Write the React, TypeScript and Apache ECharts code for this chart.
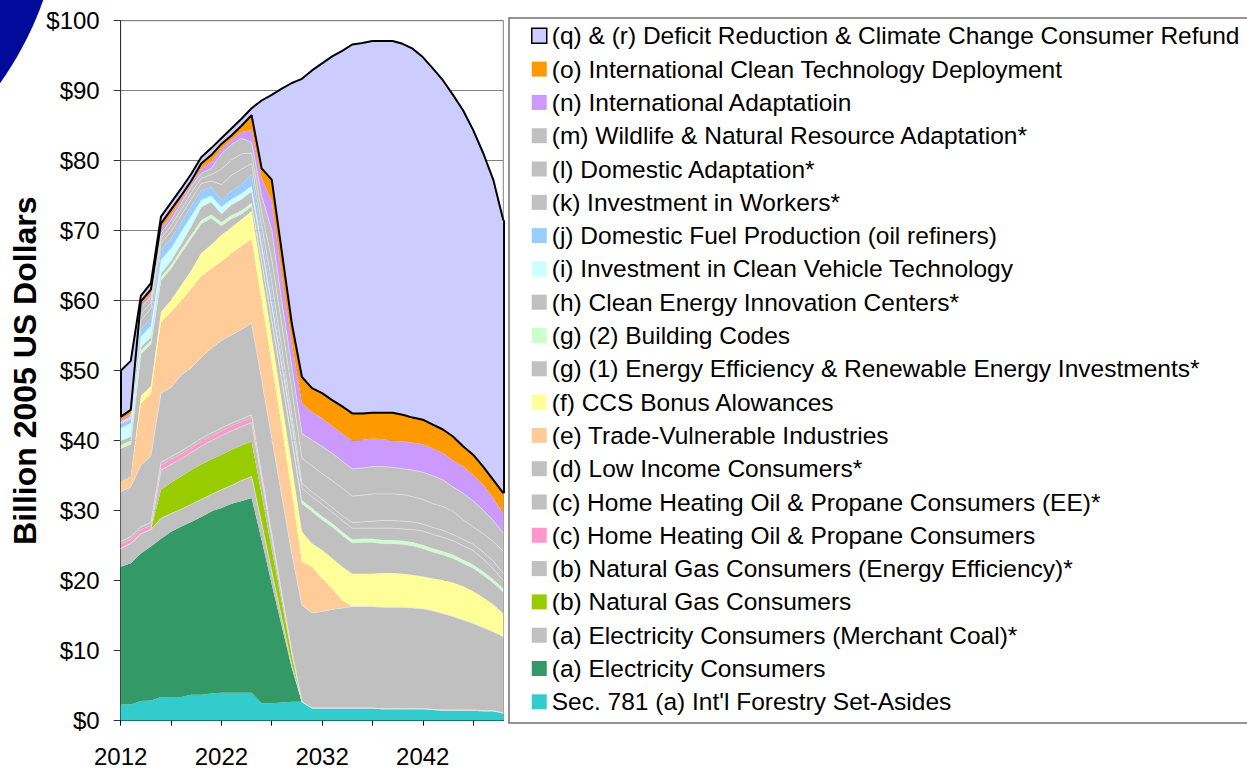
import React, { useEffect, useRef } from 'react';
import * as echarts from 'echarts';

const years = ['2012','2013','2014','2015','2016','2017','2018','2019','2020','2021','2022','2023','2024','2025','2026','2027','2028','2029','2030','2031','2032','2033','2034','2035','2036','2037','2038','2039','2040','2041','2042','2043','2044','2045','2046','2047','2048','2049','2050'];

const yTicks = [0, 10, 20, 30, 40, 50, 60, 70, 80, 90, 100];

// series values, billion 2005 US$, 2012..2050 (bottom of stack first)
const forestry = [2.3,2.3,2.8,2.9,3.4,3.4,3.4,3.7,3.7,3.9,4.0,4.0,4.0,4.0,2.5,2.5,2.6,2.7,2.7,1.8,1.8,1.8,1.8,1.8,1.8,1.8,1.7,1.7,1.7,1.7,1.7,1.6,1.5,1.5,1.5,1.5,1.4,1.4,1.1];
const electricity = [19.7,20.2,21.1,22.0,22.6,23.6,24.3,24.7,25.4,26.0,26.4,27.0,27.4,27.8,23.3,17.0,10.9,4.8,0,0,0,0,0,0,0,0,0,0,0,0,0,0,0,0,0,0,0,0,0];
const merchantCoal = [2.6,2.8,2.8,2.4,2.9,2.6,2.5,2.5,2.5,2.4,2.6,2.6,2.9,3.1,2.4,1.8,1.1,0.4,0,0,0,0,0,0,0,0,0,0,0,0,0,0,0,0,0,0,0,0,0];
const natGas = [0,0,0,0,4.1,4.4,4.7,4.9,5.0,5.0,5.0,5.1,5.0,5.0,4.1,3.2,2.3,1.4,0,0,0,0,0,0,0,0,0,0,0,0,0,0,0,0,0,0,0,0,0];
const natGasEE = [0,0,0,0,2.8,2.6,2.5,2.5,2.6,2.7,2.7,2.7,2.7,2.7,2.2,1.6,1.0,0.4,0,0,0,0,0,0,0,0,0,0,0,0,0,0,0,0,0,0,0,0,0];
const heatingOil = [0.6,0.6,0.6,0.6,0.7,0.7,0.7,0.7,0.7,0.7,0.7,0.7,0.7,0.7,0.5,0.4,0.2,0.1,0,0,0,0,0,0,0,0,0,0,0,0,0,0,0,0,0,0,0,0,0];
const heatingOilEE = [0.4,0.4,0.4,0.4,0.4,0.4,0.4,0.4,0.4,0.4,0.4,0.4,0.4,0.4,0.3,0.2,0.1,0.1,0,0,0,0,0,0,0,0,0,0,0,0,0,0,0,0,0,0,0,0,0];
const lowIncome = [7.1,7.1,8.8,9.5,9.9,9.9,10.9,11.0,11.6,12.1,12.5,12.6,12.8,13.1,13.4,13.7,13.9,13.9,13.8,13.6,13.8,14.1,14.3,14.5,14.5,14.5,14.5,14.5,14.5,14.4,14.3,14.1,13.8,13.4,12.9,12.4,11.9,11.3,10.9];
const tradeVulnerable = [1.4,1.5,8.8,8.9,10.2,10.8,10.6,11.3,11.6,11.4,11.3,11.7,11.9,12.0,11.3,10.6,9.9,8.7,6.2,6.6,4.7,3.0,1.1,0,0,0,0,0,0,0,0,0,0,0,0,0,0,0,0];
const ccsBonus = [0,0,1.1,1.1,1.4,1.7,2.2,2.6,3.3,3.4,3.8,3.7,3.8,4.0,4.0,3.8,3.6,3.9,4.3,3.3,4.1,4.3,4.8,4.7,4.7,4.7,4.9,4.9,4.8,4.7,4.6,4.6,4.8,4.8,4.8,4.6,4.3,3.9,3.3];
const eeRe = [4.8,4.6,6.0,6.0,4.5,4.5,4.6,4.6,4.2,3.8,1.3,1.2,0.8,0.7,1.5,2.3,3.0,3.6,4.0,4.6,4.3,4.5,4.5,4.4,4.5,4.5,4.2,4.2,4.2,4.2,4.0,3.8,3.6,3.5,3.3,3.3,3.2,3.1,3.1];
const buildingCodes = [0.5,0.5,0.5,0.5,0.5,0.5,0.5,0.5,0.5,0.5,0.5,0.5,0.5,0.5,0.4,0.4,0.4,0.4,0.5,0.5,0.5,0.5,0.5,0.5,0.5,0.5,0.5,0.5,0.5,0.5,0.5,0.5,0.5,0.5,0.5,0.5,0.5,0.5,0.5];
const innovation = [0.6,0.6,0.5,0.5,0.5,0.6,0.8,1.2,1.9,1.8,1.2,1.5,1.6,1.6,1.6,1.7,1.7,1.7,1.7,1.6,1.7,1.6,1.6,1.6,1.5,1.5,1.7,1.7,1.7,1.8,2.0,2.0,2.0,2.0,2.0,2.0,1.8,1.5,1.1];
const cleanVehicle = [1.8,1.9,1.5,1.6,1.9,1.8,1.7,1.5,1.0,0.9,1.0,0.8,0.8,0.8,0.6,0.5,0.3,0.2,0,0,0,0,0,0,0,0,0,0,0,0,0,0,0,0,0,0,0,0,0];
const domesticFuel = [0.5,0.5,1.0,1.1,1.4,1.4,1.4,1.4,1.4,1.2,1.0,1.2,1.3,1.7,1.3,1.2,0.8,0.4,0,0,0,0,0,0,0,0,0,0,0,0,0,0,0,0,0,0,0,0,0];
const workers = [0.15,0.15,1.3,1.4,1.0,1.0,1.0,1.0,0.9,0.9,2.2,2.2,2.2,1.5,1.4,1.8,1.4,1.0,0.7,0.7,0.7,0.7,0.7,0.8,0.9,1.0,1.1,1.1,1.1,1.1,1.0,1.0,1.0,0.9,0.9,0.9,1.0,1.1,1.0];
const domesticAdaptation = [0.1,0.1,0.9,0.8,0.7,0.8,0.8,0.9,0.8,0.9,2.2,2.2,2.2,1.5,1.8,3.2,3.4,3.5,3.6,3.7,3.7,3.8,3.9,3.8,3.8,3.9,3.8,3.8,3.8,3.6,3.5,3.4,3.4,3.3,2.8,2.5,2.6,2.8,3.2];
const wildlife = [0.15,0.15,0.9,0.9,0.7,0.8,0.9,0.9,0.7,0.9,2.2,2.2,2.2,1.5,2.4,4.2,3.3,3.4,3.5,3.7,3.9,3.9,3.9,3.9,3.9,3.9,3.9,3.8,3.7,3.8,3.9,4.0,3.8,3.5,3.8,3.7,3.4,3.0,2.6];
const intlAdaptation = [0.3,0.4,0.4,0.4,0.7,0.7,0.6,0.4,0.7,1.0,0.7,0.7,0.9,1.8,2.5,4.2,3.8,3.4,4.3,4.0,4.0,3.9,3.9,4.0,4.0,4.0,3.9,3.8,3.9,3.9,4.0,3.9,3.8,3.8,3.8,3.7,3.6,3.2,2.8];
const intlCleanTech = [0.4,0.6,0.5,0.6,0.7,0.8,0.5,0.4,0.7,0.9,0.7,0.6,0.9,2.1,1.4,3.0,3.3,2.7,3.8,3.4,3.6,3.7,3.9,3.9,3.8,3.7,3.8,4.0,3.8,3.6,3.5,3.4,3.4,3.4,2.9,2.9,2.6,2.6,2.9];
const deficitRefund = [6.6,7.0,0.8,0.9,1.0,1.0,1.0,1.0,0.9,1.0,0.8,1.0,1.0,1.0,9.7,12.1,23.3,34.4,42.6,45.4,47.1,49.1,50.8,52.7,52.9,53.1,53.1,53.1,53.0,52.7,51.8,50.9,49.9,48.8,48.0,46.4,44.8,42.9,39.0];

const GRAY = '#C0C0C0';
const FONT = '"Liberation Sans", Arial, Helvetica, sans-serif';

type Def = { name: string; data: number[]; color: string; gray?: boolean; black?: boolean };

const defs: Def[] = [
  { name: "Sec. 781 (a) Int'l Forestry Set-Asides", data: forestry, color: '#33CCCC' },
  { name: '(a) Electricity Consumers', data: electricity, color: '#339966' },
  { name: '(a) Electricity Consumers (Merchant Coal)*', data: merchantCoal, color: GRAY, gray: true },
  { name: '(b) Natural Gas Consumers', data: natGas, color: '#99CC00' },
  { name: '(b) Natural Gas Consumers (Energy Efficiency)*', data: natGasEE, color: GRAY, gray: true },
  { name: '(c) Home Heating Oil & Propane Consumers', data: heatingOil, color: '#FF99CC' },
  { name: '(c) Home Heating Oil & Propane Consumers (EE)*', data: heatingOilEE, color: GRAY, gray: true },
  { name: '(d) Low Income Consumers*', data: lowIncome, color: GRAY, gray: true },
  { name: '(e) Trade-Vulnerable Industries', data: tradeVulnerable, color: '#FFCC99' },
  { name: '(f) CCS Bonus Alowances', data: ccsBonus, color: '#FFFF99' },
  { name: '(g) (1) Energy Efficiency & Renewable Energy Investments*', data: eeRe, color: GRAY, gray: true },
  { name: '(g) (2) Building Codes', data: buildingCodes, color: '#CCFFCC' },
  { name: '(h) Clean Energy Innovation Centers*', data: innovation, color: GRAY, gray: true },
  { name: '(i) Investment in Clean Vehicle Technology', data: cleanVehicle, color: '#CCFFFF' },
  { name: '(j) Domestic Fuel Production (oil refiners)', data: domesticFuel, color: '#99CCFF' },
  { name: '(k) Investment in Workers*', data: workers, color: GRAY, gray: true },
  { name: '(l) Domestic Adaptation*', data: domesticAdaptation, color: GRAY, gray: true },
  { name: '(m) Wildlife & Natural Resource Adaptation*', data: wildlife, color: GRAY, gray: true },
  { name: '(n) International Adaptatioin', data: intlAdaptation, color: '#CC99FF' },
  { name: '(o) International Clean Technology Deployment', data: intlCleanTech, color: '#FF9900', black: true },
  { name: '(q) & (r) Deficit Reduction & Climate Change Consumer Refund', data: deficitRefund, color: '#CCCCFF', black: true },
];

export default function App() {
  const ref = useRef<HTMLDivElement>(null);
  useEffect(() => {
    if (!ref.current) return;
    const chart = echarts.init(ref.current, undefined, { renderer: 'svg' });
    const n = years.length;
    const cum = (upto: number, i: number) => {
      let s = 0;
      for (let k = 0; k <= upto; k++) s += defs[k].data[i];
      return Math.round(s * 100) / 100;
    };
    const last = defs.length - 1;
    const series: any[] = defs.map((d) => ({
      name: d.name,
      type: 'line',
      stack: 'total',
      data: d.data,
      symbol: 'none',
      showSymbol: false,
      silent: true,
      z: d.black ? 3 : 2,
      itemStyle: { color: d.color },
      areaStyle: { color: d.color, opacity: 1 },
      lineStyle: d.black
        ? { color: '#000', width: 2 }
        : d.gray
        ? { color: '#E4E4E4', width: 0.7 }
        : { width: 0, opacity: 0 },
      emphasis: { disabled: true },
    }));
    series.push({
      type: 'line',
      name: 'edges',
      data: years.map(() => null),
      silent: true,
      symbol: 'none',
      z: 4,
      markLine: {
        silent: true,
        symbol: ['none', 'none'],
        label: { show: false },
        lineStyle: { color: '#000', width: 2, type: 'solid' },
        data: [
          [{ coord: [years[0], cum(last - 1, 0)] }, { coord: [years[0], cum(last, 0)] }],
          [{ coord: [years[n - 1], cum(last - 1, n - 1)] }, { coord: [years[n - 1], cum(last, n - 1)] }],
        ],
      },
    });
    chart.setOption({
      animation: false,
      backgroundColor: '#fff',
      grid: { left: 120.7, top: 20.7, right: 743.7, bottom: 50.3, show: true, borderColor: '#808080', borderWidth: 1, containLabel: false },
      legend: {
        orient: 'vertical',
        left: 531,
        top: 23.3,
        padding: 0,
        itemWidth: 15,
        itemHeight: 15,
        itemGap: 8.3,
        itemTextGap: 7,
        selectedMode: false,
        icon: 'rect',
        textStyle: { fontSize: 24.5, color: '#000', fontFamily: FONT, lineHeight: 25 },
        data: [...defs].reverse().map((d) => ({
          name: d.name,
          icon: 'rect',
          itemStyle: { color: d.color, borderColor: d.name.startsWith('(q)') ? '#000' : d.color, borderWidth: d.name.startsWith('(q)') ? 1.5 : 0 },
          lineStyle: { width: 0, opacity: 0 },
        })),
      },
      xAxis: {
        type: 'category',
        data: years,
        boundaryGap: false,
        axisLine: { show: true, lineStyle: { color: '#000', width: 1 } },
        axisTick: { show: true, interval: (i: number) => i % 5 === 0, length: 5, lineStyle: { color: '#000' } },
        axisLabel: { interval: (i: number) => i % 10 === 0, fontSize: 24, color: '#000', fontFamily: FONT, margin: 24 },
        splitLine: { show: false },
      },
      yAxis: {
        type: 'value',
        min: yTicks[0],
        max: yTicks[yTicks.length - 1],
        interval: yTicks[1] - yTicks[0],
        name: 'Billion 2005 US Dollars',
        nameLocation: 'middle',
        nameGap: 80,
        nameTextStyle: { fontSize: 32, fontWeight: 'bold', color: '#000', fontFamily: FONT },
        axisLine: { show: true, lineStyle: { color: '#333', width: 1 } },
        axisTick: { show: true, length: 7, lineStyle: { color: '#333' } },
        axisLabel: { formatter: (v: number) => '$' + v, fontSize: 24, color: '#000', fontFamily: FONT, margin: 21 },
        splitLine: { show: true, lineStyle: { color: '#808080', width: 1 } },
      },
      graphic: [
        { type: 'circle', shape: { cx: -270, cy: -110, r: 332 }, style: { fill: '#000B9C' }, silent: true },
        { type: 'rect', shape: { x: 509, y: 18, width: 800, height: 705 }, style: { fill: 'none', stroke: '#707070', lineWidth: 1.5 }, silent: true },
      ],
      series,
    });
    return () => chart.dispose();
  }, []);
  return <div ref={ref} style={{ position: 'fixed', left: 0, top: 0, width: 1247, height: 771 }} />;
}
